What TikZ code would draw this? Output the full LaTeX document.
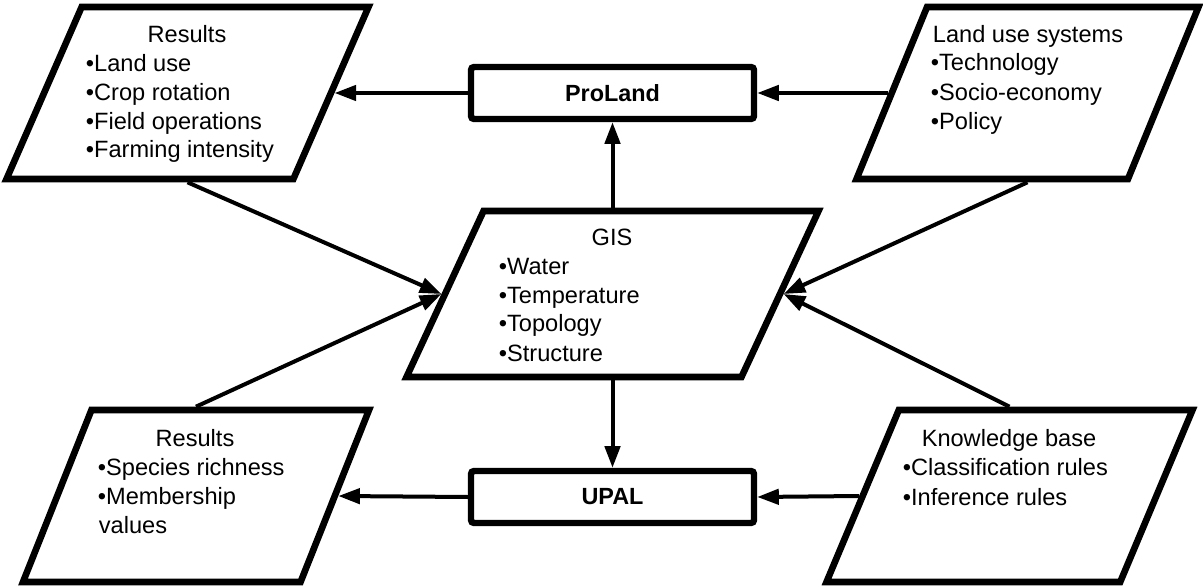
\documentclass[tikz,border=0pt]{standalone}
\usepackage{fontspec}
\setmainfont{Liberation Sans}
\usetikzlibrary{shapes.geometric,arrows.meta}
\begin{document}
\begin{tikzpicture}[x=0.5pt,y=-0.5pt,
  para/.style={trapezium, draw, line width=3.3pt, trapezium stretches body, inner sep=0pt, text width=0pt, text depth=0pt, fill=white},
  prog/.style={rectangle, draw, line width=3.2pt, rounded corners=1.5pt, minimum width=141.5pt, minimum height=26pt, inner sep=0pt, font=\fontsize{11.7pt}{14.4pt}\selectfont\bfseries},
  txt/.style={inner sep=0pt, font=\fontsize{11.8pt}{14.4pt}\selectfont},
  head/.style={txt, anchor=base},
  item/.style={txt, anchor=base west},
  conn/.style={line width=2pt, -{Triangle[length=10.8pt,width=7.6pt]}}
]
\useasboundingbox (0,0) rectangle (1203,587);

% shapes
\node[para, trapezium left angle=66.4, trapezium right angle=113.6, minimum width=181pt, text height=86pt] (tl) at (187.5,93) {};
\node[para, trapezium left angle=67.7, trapezium right angle=112.3, minimum width=171pt, text height=86pt] (tr) at (1027.5,93) {};
\node[para, trapezium left angle=65.1, trapezium right angle=114.9, minimum width=206pt, text height=83pt] (gis) at (612.5,294) {};
\node[para, trapezium left angle=68.3, trapezium right angle=111.7, minimum width=173pt, text height=86pt] (bl) at (196,496) {};
\node[para, trapezium left angle=67.2, trapezium right angle=112.8, minimum width=183pt, text height=86pt] (kb) at (1009.5,496) {};

\node[prog] (pl) at (612.5,93) {ProLand};
\node[prog] (up) at (612.5,497) {UPAL};

% texts: results (top left)
\node[head] (tlh) at (187,43) {Results};
\node[item] (tl1) at (85.5,72) {•Land use};
\node[item] (tl2) at (85.5,101) {•Crop rotation};
\node[item] (tl3) at (85.5,130) {•Field operations};
\node[item] (tl4) at (85.5,158) {•Farming intensity};

% land use systems
\node[head] (trh) at (1028,43) {Land use systems};
\node[item] (tr1) at (930.5,71) {•Technology};
\node[item] (tr2) at (930.5,101) {•Socio-economy};
\node[item] (tr3) at (930.5,130) {•Policy};

% GIS
\node[head] (gish) at (612,246) {GIS};
\node[item] (gis1) at (498.5,275) {•Water};
\node[item] (gis2) at (498.5,304) {•Temperature};
\node[item] (gis3) at (498.5,332) {•Topology};
\node[item] (gis4) at (498.5,361) {•Structure};

% results (bottom left)
\node[head] (blh) at (195,446) {Results};
\node[item] (bl1) at (97.5,475) {•Species richness};
\node[item] (bl2) at (97.5,504) {•Membership};
\node[item] (bl3) at (98.5,533) {values};

% knowledge base
\node[head] (kbh) at (1009,446) {Knowledge base};
\node[item] (kb1) at (902.5,475) {•Classification rules};
\node[item] (kb2) at (902.5,505) {•Inference rules};

% connectors
\draw[conn] (pl.west) -- (tl.right side);
\draw[conn] (tr.left side) -- (pl.east);
\draw[conn] (gis.north) -- (pl.south);
\draw[conn] (gis.south) -- (up.north);
\draw[conn] (up.west) -- (bl.right side);
\draw[conn] (kb.left side) -- (up.east);
\draw[conn] (tl.south) -- (gis.left side);
\draw[conn] (bl.north) -- (gis.left side);
\draw[conn] (tr.south) -- (gis.right side);
\draw[conn] (kb.north) -- (gis.right side);
\end{tikzpicture}
\end{document}
